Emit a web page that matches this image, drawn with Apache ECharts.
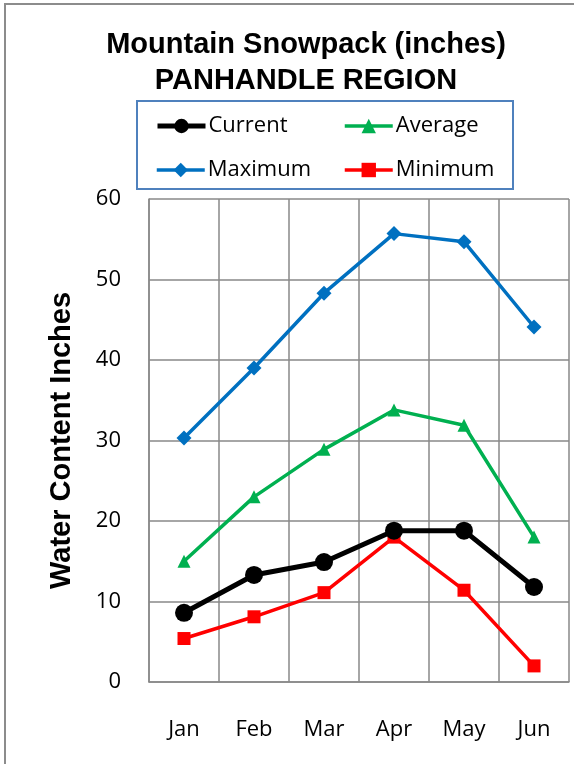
<!DOCTYPE html>
<html>
<head>
<meta charset="utf-8">
<style>
  html, body { margin: 0; padding: 0; background: #fff; }
  #chart { width: 574px; height: 764px; }
</style>
<script src="https://cdn.jsdelivr.net/npm/echarts@6/dist/echarts.min.js"></script>
</head>
<body>
<div id="chart"></div>
<script>
// Snowpack water content by month, Panhandle region
const months = ['Jan', 'Feb', 'Mar', 'Apr', 'May', 'Jun'];
const current = [8.6, 13.3, 14.9, 18.8, 18.8, 11.8];
const average = [15.0, 23.0, 28.9, 33.8, 31.9, 18.0];
const maximum = [30.3, 39.0, 48.3, 55.7, 54.7, 44.1];
const minimum = [5.4, 8.1, 11.1, 18.0, 11.4, 2.0];
const yTicks = { min: 0, max: 60, interval: 10 };

const gridColor = '#888888';
const labelFont = 'Open Sans';

const chart = echarts.init(document.getElementById('chart'), null, { renderer: 'canvas' });

function legendAt(name, left, top, lineWidth) {
  return {
    data: [name],
    left: left,
    top: top,
    itemWidth: 48,
    itemHeight: 18,
    itemGap: 0,
    padding: 0,
    lineStyle: { width: lineWidth },
    textStyle: { fontFamily: labelFont, fontSize: 22, color: '#000', padding: [0, 0, 0, -2] }
  };
}

chart.setOption({
  animation: false,
  backgroundColor: '#ffffff',
  title: {
    text: 'Mountain Snowpack (inches)\nPANHANDLE REGION',
    left: 301,
    top: 22,
    textAlign: 'center',
    textStyle: {
      fontFamily: 'Liberation Sans',
      fontWeight: 'bold',
      fontSize: 29,
      lineHeight: 36,
      color: '#000'
    }
  },
  graphic: [
    {
      type: 'rect',
      shape: { x: 5, y: 4, width: 620, height: 800 },
      style: { fill: 'none', stroke: '#8c8c8c', lineWidth: 2 },
      silent: true
    },
    {
      type: 'rect',
      shape: { x: 137, y: 101, width: 376, height: 88 },
      style: { fill: 'none', stroke: '#4f81bd', lineWidth: 2 },
      silent: true
    }
  ],
  legend: [
    legendAt('Current', 155, 115, 5),
    legendAt('Average', 343, 115, 3.5),
    legendAt('Maximum', 155, 159, 3.5),
    legendAt('Minimum', 343, 159, 3.5)
  ],
  grid: { left: 149, right: 5, top: 199, bottom: 82 },
  xAxis: {
    type: 'category',
    data: months,
    boundaryGap: true,
    axisLine: { show: true, lineStyle: { color: gridColor, width: 1.5 } },
    axisTick: { show: false },
    axisLabel: { fontFamily: labelFont, fontSize: 22, color: '#000', margin: 37 },
    splitLine: { show: true, lineStyle: { color: gridColor, width: 1.5 } }
  },
  yAxis: {
    type: 'value',
    min: yTicks.min,
    max: yTicks.max,
    interval: yTicks.interval,
    name: 'Water Content Inches',
    nameLocation: 'middle',
    nameRotate: 90,
    nameGap: 73,
    nameTextStyle: { fontFamily: 'Liberation Sans', fontWeight: 'bold', fontSize: 29, color: '#000' },
    axisLine: { show: true, lineStyle: { color: gridColor, width: 1.5 } },
    axisTick: { show: false },
    axisLabel: { fontFamily: labelFont, fontSize: 22, color: '#000', margin: 28 },
    splitLine: { show: true, lineStyle: { color: gridColor, width: 1.5 } }
  },
  series: [
    {
      name: 'Maximum', type: 'line', data: maximum,
      symbol: 'diamond', symbolSize: 15,
      lineStyle: { color: '#0070c0', width: 3.5 },
      itemStyle: { color: '#0070c0' }
    },
    {
      name: 'Average', type: 'line', data: average,
      symbol: 'triangle', symbolSize: 13,
      lineStyle: { color: '#00b050', width: 3.5 },
      itemStyle: { color: '#00b050' }
    },
    {
      name: 'Minimum', type: 'line', data: minimum,
      symbol: 'rect', symbolSize: 13,
      lineStyle: { color: '#ff0000', width: 3.5 },
      itemStyle: { color: '#ff0000' }
    },
    {
      name: 'Current', type: 'line', data: current,
      symbol: 'circle', symbolSize: 18,
      lineStyle: { color: '#000000', width: 5 },
      itemStyle: { color: '#000000' }
    }
  ]
});
</script>
</body>
</html>
